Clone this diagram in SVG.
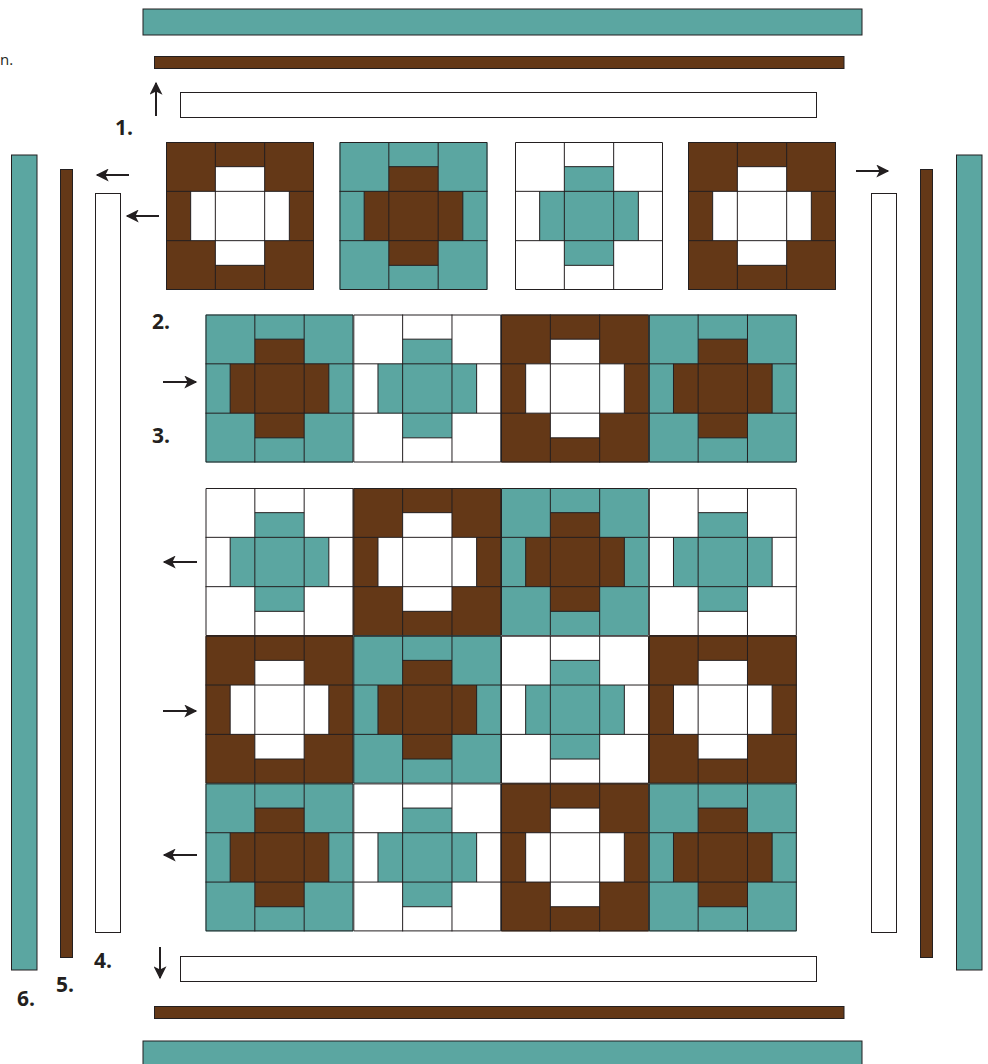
<svg xmlns="http://www.w3.org/2000/svg" xmlns:xlink="http://www.w3.org/1999/xlink" width="988" height="1064" viewBox="0 0 988 1064">
<style>
.t{fill:#5ba6a1}
.b{fill:#643817}
.w{fill:#ffffff}
.s{stroke:#231f20;stroke-width:1}
.gl{stroke:#231f20;stroke-width:1;fill:none}
.lbl{font-family:"Open Sans","Liberation Sans",sans-serif;font-weight:bold;font-size:21px;fill:#231f20}
.arr{stroke:#231f20;stroke-width:2;fill:none;marker-end:url(#ah)}
</style>
<defs>
<marker id="ah" viewBox="0 0 10 10" refX="9" refY="5" markerWidth="8" markerHeight="6.5" markerUnits="strokeWidth" orient="auto">
<path d="M0,0 L10,5 L0,10 L2.5,5 Z" fill="#231f20"/>
</marker>
<g id="grid">
<path class="gl" d="M0.5,0.5H147.5V147.5H0.5Z M49.33,0V148 M98.67,0V148 M0,49.33H148 M0,98.67H148 M49.33,24.67H98.67 M49.33,123.33H98.67 M24.67,49.33V98.67 M123.33,49.33V98.67"/>
</g>
<path id="plus" d="M49.33,24.67H98.67V49.33H123.33V98.67H98.67V123.33H49.33V98.67H24.67V49.33H49.33Z"/>
<g id="BW"><rect width="148" height="148" class="b"/><use xlink:href="#plus" class="w"/><use xlink:href="#grid"/></g>
<g id="TB"><rect width="148" height="148" class="t"/><use xlink:href="#plus" class="b"/><use xlink:href="#grid"/></g>
<g id="WT"><rect width="148" height="148" class="w"/><use xlink:href="#plus" class="t"/><use xlink:href="#grid"/></g>
</defs>

<g id="strips">
<rect id="top-teal" x="143" y="9" width="719" height="26" class="t s"/>
<rect id="top-brown" x="154.5" y="56.5" width="689.5" height="12" class="b s"/>
<rect id="top-white" x="180.5" y="92.5" width="636" height="25" class="w s"/>
<rect id="bot-white" x="180.5" y="956.5" width="636" height="25" class="w s"/>
<rect id="bot-brown" x="154.5" y="1006.5" width="689.5" height="12" class="b s"/>
<rect id="bot-teal" x="143" y="1041" width="719" height="30" class="t s"/>
<rect id="left-teal" x="11.5" y="155" width="25.5" height="815" class="t s"/>
<rect id="left-brown" x="60.5" y="169.5" width="12" height="788" class="b s"/>
<rect id="left-white" x="95.5" y="193.5" width="25" height="739" class="w s"/>
<rect id="right-white" x="871.5" y="193.5" width="25" height="739" class="w s"/>
<rect id="right-brown" x="920.5" y="169.5" width="12" height="788" class="b s"/>
<rect id="right-teal" x="956.5" y="155" width="25.5" height="815" class="t s"/>
</g>

<g id="row1">
<use id="r1b1" xlink:href="#BW" x="166" y="142"/>
<use id="r1b2" xlink:href="#TB" x="339.5" y="142"/>
<use id="r1b3" xlink:href="#WT" x="515" y="142"/>
<use id="r1b4" xlink:href="#BW" x="688" y="142"/>
</g>

<g id="row2">
<use id="r2b1" xlink:href="#TB" x="205.5" y="314.5"/>
<use id="r2b2" xlink:href="#WT" x="353.3" y="314.5"/>
<use id="r2b3" xlink:href="#BW" x="501" y="314.5"/>
<use id="r2b4" xlink:href="#TB" x="648.8" y="314.5"/>
</g>

<g id="centre">
<use xlink:href="#WT" x="205.5" y="488"/>
<use xlink:href="#BW" x="353.3" y="488"/>
<use xlink:href="#TB" x="501" y="488"/>
<use xlink:href="#WT" x="648.8" y="488"/>
<use xlink:href="#BW" x="205.5" y="635.7"/>
<use xlink:href="#TB" x="353.3" y="635.7"/>
<use xlink:href="#WT" x="501" y="635.7"/>
<use xlink:href="#BW" x="648.8" y="635.7"/>
<use xlink:href="#TB" x="205.5" y="783.4"/>
<use xlink:href="#WT" x="353.3" y="783.4"/>
<use xlink:href="#BW" x="501" y="783.4"/>
<use xlink:href="#TB" x="648.8" y="783.4"/>
</g>

<g id="connectors">
<line class="arr" x1="156" y1="116" x2="156" y2="83"/>
<line class="arr" x1="129" y1="175" x2="97" y2="175"/>
<line class="arr" x1="159" y1="216" x2="127" y2="216"/>
<line class="arr" x1="856" y1="171" x2="888" y2="171"/>
<line class="arr" x1="163" y1="382" x2="196" y2="382"/>
<line class="arr" x1="197" y1="562" x2="164" y2="562"/>
<line class="arr" x1="163" y1="711" x2="196" y2="711"/>
<line class="arr" x1="197" y1="855" x2="164" y2="855"/>
<line class="arr" x1="160" y1="947" x2="160" y2="978"/>
</g>

<g id="labels">
<text x="0" y="65" font-family="'Open Sans','Liberation Sans',sans-serif" font-size="15" fill="#231f20">n.</text>
<text class="lbl" x="115" y="135">1.</text>
<text class="lbl" x="152" y="329">2.</text>
<text class="lbl" x="152" y="443">3.</text>
<text class="lbl" x="94" y="968">4.</text>
<text class="lbl" x="56" y="992">5.</text>
<text class="lbl" x="17" y="1006">6.</text>
</g>
</svg>
